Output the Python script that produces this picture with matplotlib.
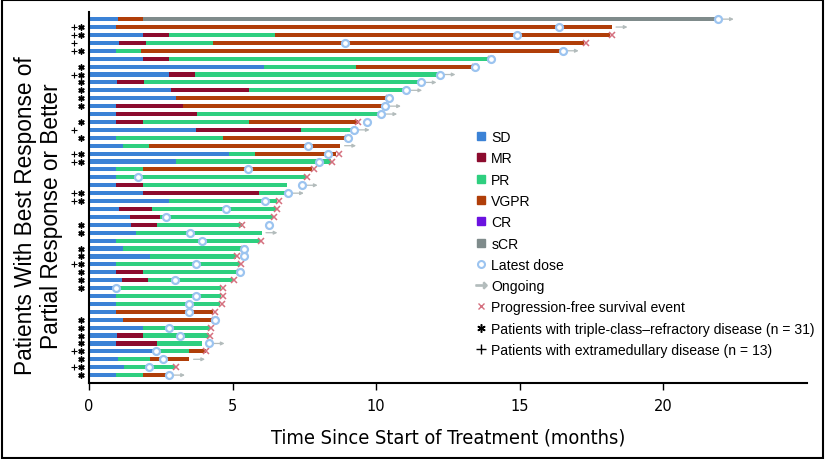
import numpy as np
import matplotlib
matplotlib.use("Agg")
import matplotlib.pyplot as plt
import matplotlib.transforms as mtransforms
from matplotlib.lines import Line2D
from matplotlib.patches import Rectangle

# response colours
colors = {'SD': '#3b82d6', 'MR': '#8c0b2e', 'PR': '#2ecf7f',
          'VGPR': '#b03e09', 'CR': '#6b12e0', 'sCR': '#7f8b8b'}

# per patient: response phases and the time (months) each phase ends
phases = [
    ['SD', 'VGPR', 'sCR'], ['SD', 'VGPR'], ['SD', 'MR', 'PR', 'VGPR'], ['SD', 'MR', 'PR', 'VGPR'],
    ['SD', 'PR', 'VGPR'], ['SD', 'MR', 'PR'], ['SD', 'PR', 'VGPR'], ['SD', 'MR', 'PR'],
    ['SD', 'MR', 'PR'], ['SD', 'MR', 'PR'], ['SD', 'VGPR'], ['SD', 'MR', 'VGPR'],
    ['SD', 'MR', 'PR'], ['SD', 'MR', 'PR', 'VGPR'], ['SD', 'MR', 'PR'], ['SD', 'PR', 'VGPR'],
    ['SD', 'PR', 'VGPR'], ['SD', 'PR', 'VGPR'], ['SD', 'PR'], ['SD', 'PR', 'VGPR'],
    ['SD', 'PR'], ['SD', 'MR', 'PR'], ['SD', 'MR', 'PR'], ['SD', 'PR'],
    ['SD', 'MR', 'PR'], ['SD', 'MR', 'PR'], ['SD', 'MR', 'PR'], ['SD', 'PR'],
    ['SD', 'PR'], ['SD', 'PR'], ['SD', 'PR'], ['SD', 'PR'],
    ['SD', 'MR', 'PR'], ['SD', 'MR', 'PR'], ['SD', 'PR'], ['SD', 'PR'],
    ['SD', 'PR'], ['SD', 'VGPR'], ['SD', 'VGPR'], ['SD', 'PR'],
    ['SD', 'MR', 'PR'], ['SD', 'MR', 'PR'], ['SD', 'PR', 'VGPR'], ['SD', 'PR', 'VGPR'],
    ['SD', 'PR'], ['SD', 'PR', 'VGPR'],
]
phase_ends = [
    [1.02, 1.89, 21.9], [0.94, 18.2], [1.89, 2.80, 6.48, 18.14], [1.06, 1.98, 4.30, 17.25],
    [0.95, 1.81, 16.5], [1.89, 2.80, 13.97], [6.09, 9.31, 13.43], [2.79, 3.69, 12.21],
    [0.99, 1.91, 11.55], [2.85, 5.57, 11.03], [3.03, 10.35], [0.95, 3.26, 10.21],
    [0.95, 3.76, 10.12], [0.94, 1.89, 5.57, 9.37], [3.72, 7.38, 9.22], [0.95, 4.65, 8.96],
    [1.19, 2.10, 8.75], [4.86, 5.77, 8.61], [3.03, 8.44], [0.95, 1.89, 7.78],
    [0.95, 7.57], [0.94, 1.89, 6.91], [1.89, 5.91, 6.85], [2.79, 6.56],
    [1.06, 2.21, 6.52], [1.43, 2.48, 6.41], [1.46, 2.37, 5.34], [1.63, 6.01],
    [0.95, 5.94], [1.19, 5.37], [2.12, 5.11], [0.95, 5.25],
    [0.95, 1.89, 5.23], [1.16, 2.06, 5.00], [0.85, 4.59], [0.95, 4.59],
    [0.95, 4.56], [0.95, 4.32], [1.19, 4.32], [1.89, 4.21],
    [0.99, 1.89, 4.18], [0.95, 2.35, 3.94], [2.30, 3.49, 4.06], [1.00, 2.12, 3.49],
    [1.22, 2.99], [0.95, 1.89, 2.70],
]
latest_dose = [21.9, 16.36, 14.9, 8.9, 16.5, 14.0, 13.43, 12.21, 11.55, 11.05, 10.43, 10.31,
               10.18, 9.68, 9.22, 9.02, 7.63, 8.32, 8.01, 5.55, 1.70, 7.41, 6.93, 6.13,
               4.77, 2.69, 6.27, 3.52, 3.94, 5.40, 5.40, 3.72, 5.25, 2.99, 0.95, 3.72,
               3.49, 3.49, 4.38, 2.79, 3.17, 4.17, 2.32, 2.56, 2.10, 2.79]
pfs_event = [None, None, 18.2, 17.3, None, 14.0, 13.43, None, None, None, 10.43, None,
             None, 9.38, None, 9.02, None, 8.71, 8.46, 7.82, 7.59, None, None, 6.62,
             6.55, 6.43, 5.34, None, 6.0, 5.40, 5.16, 5.30, 5.25, 5.05, 4.65, 4.65,
             4.63, 4.39, 4.38, 4.23, 4.21, None, 4.09, None, 3.03, None]
ongoing = [0, 1, 4, 7, 8, 9, 11, 12, 14, 16, 21, 22, 27, 41, 43, 45]
triple_class = [1, 2, 4, 6, 7, 8, 9, 10, 11, 13, 15, 17, 18, 22, 23, 26, 27, 29, 30, 31,
                32, 33, 34, 38, 39, 40, 41, 42, 43, 44, 45]
extramedullary = [1, 2, 3, 4, 7, 14, 17, 18, 22, 23, 31, 42, 44]

n = len(phases)

fig = plt.figure(figsize=(8.25, 4.6), dpi=100)
ax = fig.add_axes([0.1079, 0.1652, 0.8703, 0.8065])

bar_h = 0.52
for i in range(n):
    start = 0
    for resp, end in zip(phases[i], phase_ends[i]):
        ax.barh(i, end - start, left=start, height=bar_h, color=colors[resp], linewidth=0)
        start = end

# progression-free survival events
for i in range(n):
    if pfs_event[i] is not None:
        ax.plot(pfs_event[i], i, marker='x', color='#d5707f', markersize=5, mew=1.1, zorder=4)

# latest dose
ax.plot(latest_dose, range(n), linestyle='none', marker='o', markersize=5,
        mfc='white', mec='#9cc4f0', mew=1.6, zorder=5)

# ongoing arrows
for i in ongoing:
    x0 = max(latest_dose[i], phase_ends[i][-1]) + 0.15
    ax.annotate('', xy=(x0 + 0.4, i), xytext=(x0, i),
                arrowprops=dict(arrowstyle='-|>', color='#b3bcbc', lw=0.9, mutation_scale=5,
                                shrinkA=0, shrinkB=0), zorder=3)

# patient flags left of the axis
trans = mtransforms.blended_transform_factory(ax.transAxes, ax.transData)
ax.scatter([-0.0105] * len(triple_class), triple_class, transform=trans, marker=(6, 2, 0),
           s=14, color='black', linewidths=1.1, clip_on=False)
ax.scatter([-0.0215] * len(extramedullary), extramedullary, transform=trans, marker='+',
           s=20, color='black', linewidths=0.8, clip_on=False)

ax.set_xlim(0, 25)
ax.set_ylim(46, -0.9)
ax.set_xticks([0, 5, 10, 15, 20])
ax.tick_params(axis='x', labelsize=10.5, length=5, width=1, pad=6)
ax.set_yticks([])
for s in ['top', 'right']:
    ax.spines[s].set_visible(False)
for s in ['left', 'bottom']:
    ax.spines[s].set_linewidth(1.5)

ax.set_xlabel('Time Since Start of Treatment (months)', fontsize=14.3,
              family='DejaVu Sans', fontstretch='condensed', labelpad=10)
ax.set_ylabel('Patients With Best Response of\nPartial Response or Better', fontsize=16.3,
              family=['Liberation Sans', 'DejaVu Sans'], linespacing=1.15)
ax.yaxis.set_label_coords(-0.036, 0.453)

handles = [Line2D([], [], linestyle='none', marker='s', markersize=6, color=colors[k])
           for k in ['SD', 'MR', 'PR', 'VGPR', 'CR', 'sCR']]
handles += [
    Line2D([], [], linestyle='none', marker='o', markersize=5, mfc='white', mec='#9cc4f0', mew=1.5),
    Line2D([], [], linestyle='none', marker=r'$\rightarrow$', markersize=8, color='#b3bcbc'),
    Line2D([], [], linestyle='none', marker='x', markersize=5, color='#d5707f'),
    Line2D([], [], linestyle='none', marker=(6, 2, 0), markersize=6, color='black', mew=1.1),
    Line2D([], [], linestyle='none', marker='+', markersize=7, color='black', mew=1),
]
labels = ['SD', 'MR', 'PR', 'VGPR', 'CR', 'sCR', 'Latest dose', 'Ongoing',
          'Progression-free survival event',
          'Patients with triple-class\u2013refractory disease (n = 31)',
          'Patients with extramedullary disease (n = 13)']
ax.legend(handles, labels, loc='upper left', bbox_to_anchor=(0.53, 0.697), frameon=False,
          prop={'family': ['Liberation Sans', 'DejaVu Sans'], 'size': 10.1},
          handlelength=0.8, handletextpad=0.35, labelspacing=0.52, borderaxespad=0)

fig.patches.append(Rectangle((0.002, 0.002), 0.996, 0.996, transform=fig.transFigure,
                             fill=False, edgecolor='black', linewidth=1.5))

fig.savefig('out.png', dpi=100)
